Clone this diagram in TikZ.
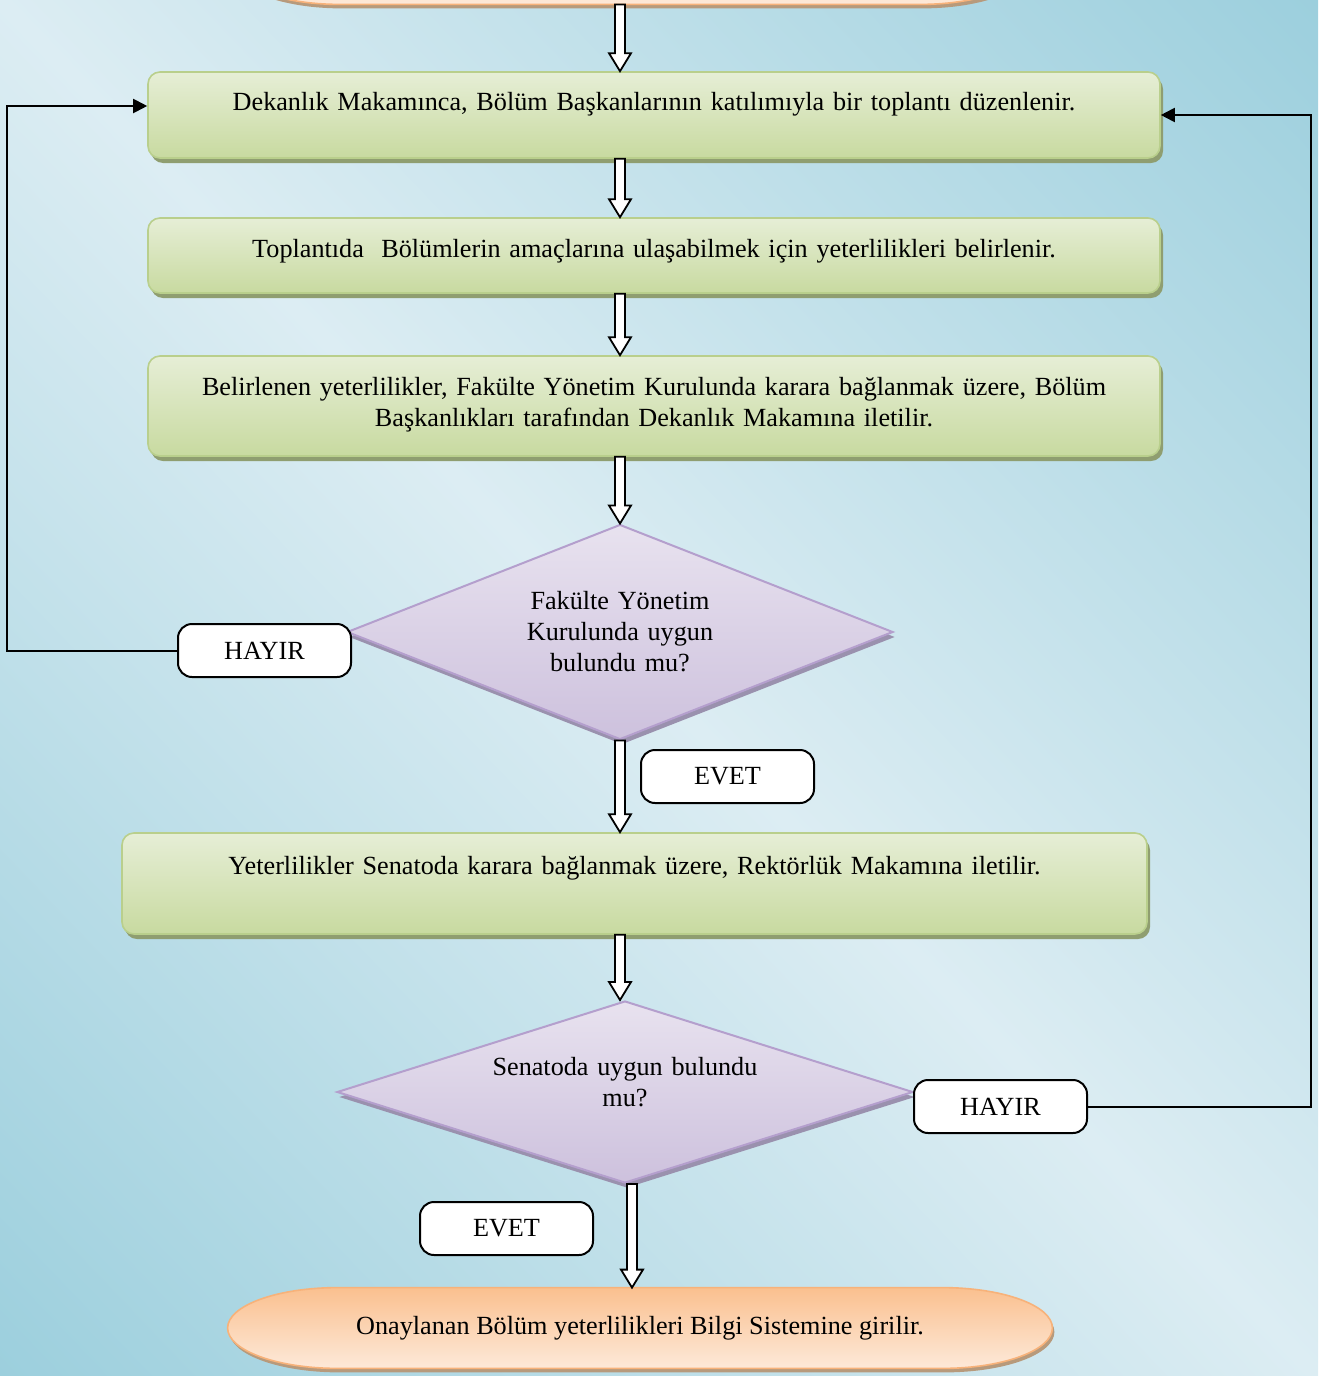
\documentclass[tikz,border=0pt]{standalone}
\usepackage{fontspec}
\setmainfont{Liberation Serif}
\usetikzlibrary{calc,shapes.geometric,shadows,arrows.meta,backgrounds}

\definecolor{greenlt}{HTML}{E6EED6}
\definecolor{greendk}{HTML}{C8DAA0}
\definecolor{greenln}{HTML}{B9CF8C}
\definecolor{greensh}{HTML}{8F9E70}
\definecolor{lilaclt}{HTML}{E8E2EF}
\definecolor{lilacdk}{HTML}{CDC1DD}
\definecolor{lilacln}{HTML}{B49FCD}
\definecolor{lilacsh}{HTML}{9A91AE}
\definecolor{orangelt}{HTML}{FDE9D9}
\definecolor{orangedk}{HTML}{FAC08F}
\definecolor{orangeln}{HTML}{F7B27A}
\definecolor{orangesh}{HTML}{B79A7C}

% light band from top left to bottom right, darker blue towards the other corners
\pgfdeclarefunctionalshading{bgdiag}{\pgfpoint{-50bp}{-50bp}}{\pgfpoint{50bp}{50bp}}{}{
  add abs 50 div
  dup -0.251 mul 0.863 add exch
  dup -0.117 mul 0.929 add exch
  -0.086 mul 0.953 add
}

\tikzset{
  greenbox/.style={rectangle,rounded corners=6pt,draw=greenln,line width=0.8pt,
    top color=greenlt,bottom color=greendk,
    drop shadow={shadow xshift=1.5pt,shadow yshift=-2.5pt,fill=greensh,opacity=1},
    inner sep=0,align=center,anchor=base},
  decision/.style={diamond,draw=lilacln,line width=1pt,
    top color=lilaclt,bottom color=lilacdk,
    drop shadow={shadow xshift=1pt,shadow yshift=-2.5pt,fill=lilacsh,opacity=1},
    inner sep=0,align=center},
  answer/.style={rectangle,rounded corners=7pt,draw,line width=1pt,fill=white,
    minimum width=86.5pt,minimum height=26.5pt,inner sep=0},
  termnode/.style={rectangle,inner sep=0},
  termfill/.style={draw=orangeln,line width=0.8pt,top color=orangedk,bottom color=orangelt,
    drop shadow={shadow xshift=1pt,shadow yshift=-2pt,fill=orangesh,opacity=1}},
  loopline/.style={line width=1pt,-{Triangle[length=7pt,width=7pt]}}
}

% hollow block arrow straight down from #1 to #2
\newcommand{\hollowarrow}[2]{%
  \draw[line width=0.9pt,fill=white,line join=miter] let \p1=(#1), \p2=(#2) in
    ({\x1-2.5pt},\y1) -- ({\x1+2.5pt},\y1) -- ({\x1+2.5pt},{\y2+9pt})
    -- ({\x1+5.5pt},{\y2+9pt}) -- (\x1,\y2) -- ({\x1-5.5pt},{\y2+9pt})
    -- ({\x1-2.5pt},{\y2+9pt}) -- cycle;}

% terminator outline with elliptic ends
\newcommand{\termpath}[3]{%
  let \p1=(#1), \p2=(#2), \n1={(\y1-\y2)/2} in
  ({\x1+#3},\y1) -- ({\x2-#3},\y1)
  arc[start angle=90,end angle=-90,x radius=#3,y radius={\n1*1pt}]
  -- ({\x1+#3},\y2)
  arc[start angle=270,end angle=90,x radius=#3,y radius={\n1*1pt}] -- cycle}

\begin{document}
\begin{tikzpicture}[x=0.5pt,y=-0.5pt,font=\fontsize{13.1}{15.5}\selectfont]
	\useasboundingbox (0,0) rectangle (1318,1376);
	\begin{scope}[on background layer]
		\shade[shading=bgdiag] (0,0) rectangle (1318,1376);
	\end{scope}

	\coordinate (axis) at (620,0);
	\coordinate (axis2) at (632,0);

	% start and end
	\node[termnode,minimum width=400pt,minimum height=42pt] (t1) at (630,-38) {};
	\node[termnode,minimum width=412pt,minimum height=40pt] (t2) at (640,1328)
		{Onaylanan Bölüm yeterlilikleri Bilgi Sistemine girilir.};
	\begin{scope}[on background layer]
		\path[termfill] \termpath{t1.north west}{t1.south east}{55pt};
		\path[termfill] \termpath{t2.north west}{t2.south east}{55pt};
	\end{scope}

	% steps
	\node[greenbox,text width=506pt,text height=19pt,text depth=24pt] (b1) at (654,110)
		{Dekanlık Makamınca, Bölüm Başkanlarının katılımıyla bir toplantı düzenlenir.};
	\node[greenbox,text width=506pt,text height=19.5pt,text depth=18pt] (b2) at (654,257)
		{Toplantıda~ Bölümlerin amaçlarına ulaşabilmek için yeterlilikleri belirlenir.};
	\node[greenbox,text width=506pt,text height=19.5pt,text depth=30.5pt] (b3) at (654,395)
		{Belirlenen yeterlilikler, Fakülte Yönetim Kurulunda karara bağlanmak üzere, Bölüm\\
		Başkanlıkları tarafından Dekanlık Makamına iletilir.};
	\node[greenbox,text width=512.5pt,text height=20.5pt,text depth=30pt] (b4) at (634.5,874)
		{Yeterlilikler Senatoda karara bağlanmak üzere, Rektörlük Makamına iletilir.};

	% decisions
	\node[decision,aspect=2.5,minimum width=273pt,minimum height=107.5pt,text width=100pt] (d1) at (620,632)
		{Fakülte Yönetim\\ Kurulunda uygun\\ bulundu mu?};
	\node[decision,aspect=3.1,minimum width=288pt,minimum height=91pt,text width=140pt,
		text height=9pt,text depth=26pt] (d2) at (625,1092)
		{Senatoda uygun bulundu\\ mu?};

	% answers
	\node[answer] (h1) at (264.5,650.5) {HAYIR};
	\node[answer] (e1) at (727.5,776.5) {EVET};
	\node[answer] (h2) at (1000.5,1106.5) {HAYIR};
	\node[answer] (e2) at (506.5,1228.5) {EVET};

	% flow
	\hollowarrow{t1.south -| axis}{b1.north -| axis}
	\hollowarrow{b1.south -| axis}{b2.north -| axis}
	\hollowarrow{b2.south -| axis}{b3.north -| axis}
	\hollowarrow{b3.south -| axis}{d1.north}
	\hollowarrow{d1.south}{b4.north -| axis}
	\hollowarrow{b4.south -| axis}{d2.north -| axis}
	\hollowarrow{d2.south -| axis2}{t2.north -| axis2}

	% back loops
	\draw[loopline] (h1.west) -- ++(-170,0) |- ([yshift=4.5pt]b1.west);
	\draw[loopline] (h2.east) -- ++(223,0) |- (b1.east);
\end{tikzpicture}
\end{document}
